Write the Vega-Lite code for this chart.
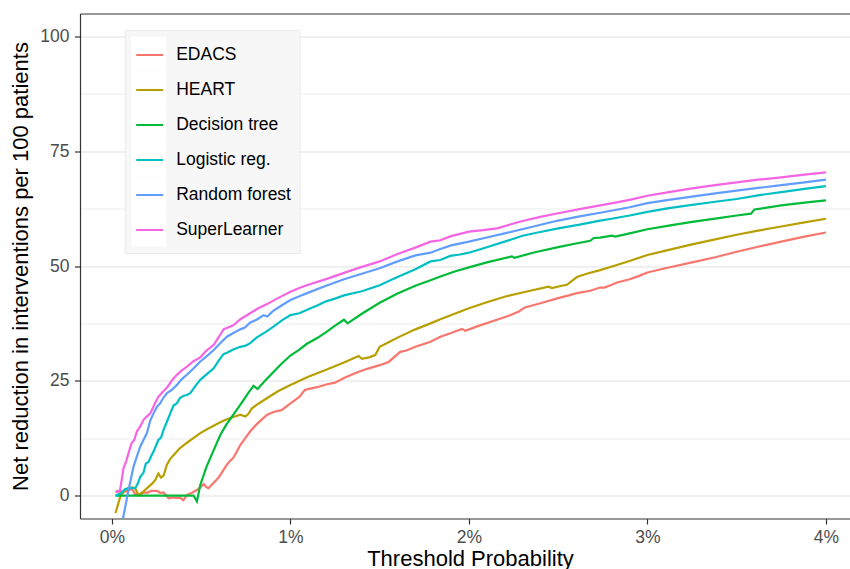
{
  "$schema": "https://vega.github.io/schema/vega-lite/v6.json",
  "width": 770,
  "height": 505,
  "autosize": "none",
  "padding": {"left": 80, "top": 13.5, "right": 0, "bottom": 50.5},
  "background": "white",
  "config": {"view": {"stroke": null}, "font": "Liberation Sans"},
  "data": {
    "values": [
      {"model": "EDACS", "t": 0.02, "nb": 0.8}, {"model": "EDACS", "t": 0.05, "nb": 0.9}, {"model": "EDACS", "t": 0.084, "nb": 0.9},
      {"model": "EDACS", "t": 0.112, "nb": 1.5}, {"model": "EDACS", "t": 0.13, "nb": 0.3}, {"model": "EDACS", "t": 0.159, "nb": 0.2},
      {"model": "EDACS", "t": 0.18, "nb": 0.7}, {"model": "EDACS", "t": 0.196, "nb": 0.6}, {"model": "EDACS", "t": 0.22, "nb": 1.0},
      {"model": "EDACS", "t": 0.252, "nb": 1.0}, {"model": "EDACS", "t": 0.27, "nb": 0.6}, {"model": "EDACS", "t": 0.289, "nb": 0.7},
      {"model": "EDACS", "t": 0.318, "nb": -0.6}, {"model": "EDACS", "t": 0.34, "nb": -0.4}, {"model": "EDACS", "t": 0.355, "nb": -0.5},
      {"model": "EDACS", "t": 0.383, "nb": -0.5}, {"model": "EDACS", "t": 0.4, "nb": -1.0}, {"model": "EDACS", "t": 0.42, "nb": 0.1},
      {"model": "EDACS", "t": 0.448, "nb": 0.6}, {"model": "EDACS", "t": 0.476, "nb": 1.2}, {"model": "EDACS", "t": 0.5, "nb": 2.0},
      {"model": "EDACS", "t": 0.514, "nb": 2.5}, {"model": "EDACS", "t": 0.53, "nb": 1.8}, {"model": "EDACS", "t": 0.541, "nb": 1.6},
      {"model": "EDACS", "t": 0.57, "nb": 2.8}, {"model": "EDACS", "t": 0.598, "nb": 3.9}, {"model": "EDACS", "t": 0.625, "nb": 5.6},
      {"model": "EDACS", "t": 0.645, "nb": 6.8}, {"model": "EDACS", "t": 0.663, "nb": 7.6}, {"model": "EDACS", "t": 0.68, "nb": 8.2},
      {"model": "EDACS", "t": 0.7, "nb": 9.6}, {"model": "EDACS", "t": 0.719, "nb": 11.0}, {"model": "EDACS", "t": 0.745, "nb": 12.4},
      {"model": "EDACS", "t": 0.775, "nb": 14.0}, {"model": "EDACS", "t": 0.81, "nb": 15.5}, {"model": "EDACS", "t": 0.84, "nb": 16.6},
      {"model": "EDACS", "t": 0.87, "nb": 17.6}, {"model": "EDACS", "t": 0.905, "nb": 18.2}, {"model": "EDACS", "t": 0.95, "nb": 18.6},
      {"model": "EDACS", "t": 1.0, "nb": 20.1}, {"model": "EDACS", "t": 1.05, "nb": 21.5}, {"model": "EDACS", "t": 1.08, "nb": 23.0},
      {"model": "EDACS", "t": 1.11, "nb": 23.3}, {"model": "EDACS", "t": 1.15, "nb": 23.6}, {"model": "EDACS", "t": 1.2, "nb": 24.2},
      {"model": "EDACS", "t": 1.25, "nb": 24.6}, {"model": "EDACS", "t": 1.3, "nb": 25.6}, {"model": "EDACS", "t": 1.372, "nb": 26.8},
      {"model": "EDACS", "t": 1.43, "nb": 27.6}, {"model": "EDACS", "t": 1.5, "nb": 28.4}, {"model": "EDACS", "t": 1.55, "nb": 29.1},
      {"model": "EDACS", "t": 1.615, "nb": 31.3}, {"model": "EDACS", "t": 1.65, "nb": 31.6}, {"model": "EDACS", "t": 1.7, "nb": 32.4},
      {"model": "EDACS", "t": 1.785, "nb": 33.5}, {"model": "EDACS", "t": 1.84, "nb": 34.6}, {"model": "EDACS", "t": 1.9, "nb": 35.4},
      {"model": "EDACS", "t": 1.96, "nb": 36.3}, {"model": "EDACS", "t": 1.98, "nb": 35.9}, {"model": "EDACS", "t": 2.05, "nb": 36.9},
      {"model": "EDACS", "t": 2.157, "nb": 38.3}, {"model": "EDACS", "t": 2.22, "nb": 39.1}, {"model": "EDACS", "t": 2.28, "nb": 40.1},
      {"model": "EDACS", "t": 2.31, "nb": 40.9}, {"model": "EDACS", "t": 2.4, "nb": 41.9}, {"model": "EDACS", "t": 2.5, "nb": 43.0},
      {"model": "EDACS", "t": 2.56, "nb": 43.6}, {"model": "EDACS", "t": 2.605, "nb": 44.1}, {"model": "EDACS", "t": 2.68, "nb": 44.6},
      {"model": "EDACS", "t": 2.735, "nb": 45.3}, {"model": "EDACS", "t": 2.76, "nb": 45.3}, {"model": "EDACS", "t": 2.8, "nb": 45.9},
      {"model": "EDACS", "t": 2.83, "nb": 46.4}, {"model": "EDACS", "t": 2.9, "nb": 47.1}, {"model": "EDACS", "t": 2.95, "nb": 47.8},
      {"model": "EDACS", "t": 3.0, "nb": 48.6}, {"model": "EDACS", "t": 3.1, "nb": 49.5}, {"model": "EDACS", "t": 3.25, "nb": 50.8},
      {"model": "EDACS", "t": 3.38, "nb": 51.9}, {"model": "EDACS", "t": 3.5, "nb": 53.1}, {"model": "EDACS", "t": 3.62, "nb": 54.2},
      {"model": "EDACS", "t": 3.75, "nb": 55.3}, {"model": "EDACS", "t": 3.88, "nb": 56.4}, {"model": "EDACS", "t": 4.0, "nb": 57.3},

      {"model": "HEART", "t": 0.02, "nb": -3.8}, {"model": "HEART", "t": 0.047, "nb": -0.2}, {"model": "HEART", "t": 0.075, "nb": 1.3},
      {"model": "HEART", "t": 0.095, "nb": 1.7}, {"model": "HEART", "t": 0.112, "nb": 1.8}, {"model": "HEART", "t": 0.13, "nb": 1.6},
      {"model": "HEART", "t": 0.149, "nb": 0.1}, {"model": "HEART", "t": 0.165, "nb": 0.6}, {"model": "HEART", "t": 0.177, "nb": 0.9},
      {"model": "HEART", "t": 0.205, "nb": 1.9}, {"model": "HEART", "t": 0.225, "nb": 2.6}, {"model": "HEART", "t": 0.243, "nb": 3.4},
      {"model": "HEART", "t": 0.26, "nb": 4.8}, {"model": "HEART", "t": 0.275, "nb": 3.9}, {"model": "HEART", "t": 0.29, "nb": 4.4},
      {"model": "HEART", "t": 0.308, "nb": 6.7}, {"model": "HEART", "t": 0.325, "nb": 7.9}, {"model": "HEART", "t": 0.345, "nb": 8.8},
      {"model": "HEART", "t": 0.38, "nb": 10.3}, {"model": "HEART", "t": 0.42, "nb": 11.5}, {"model": "HEART", "t": 0.46, "nb": 12.6},
      {"model": "HEART", "t": 0.495, "nb": 13.6}, {"model": "HEART", "t": 0.54, "nb": 14.6}, {"model": "HEART", "t": 0.588, "nb": 15.6},
      {"model": "HEART", "t": 0.63, "nb": 16.4}, {"model": "HEART", "t": 0.68, "nb": 17.1}, {"model": "HEART", "t": 0.719, "nb": 17.6},
      {"model": "HEART", "t": 0.747, "nb": 17.2}, {"model": "HEART", "t": 0.765, "nb": 17.8}, {"model": "HEART", "t": 0.784, "nb": 19.0},
      {"model": "HEART", "t": 0.82, "nb": 20.0}, {"model": "HEART", "t": 0.868, "nb": 21.2}, {"model": "HEART", "t": 0.93, "nb": 22.7},
      {"model": "HEART", "t": 1.0, "nb": 24.1}, {"model": "HEART", "t": 1.1, "nb": 25.9}, {"model": "HEART", "t": 1.2, "nb": 27.4},
      {"model": "HEART", "t": 1.3, "nb": 29.0}, {"model": "HEART", "t": 1.382, "nb": 30.4}, {"model": "HEART", "t": 1.4, "nb": 29.8},
      {"model": "HEART", "t": 1.44, "nb": 30.1}, {"model": "HEART", "t": 1.475, "nb": 30.6}, {"model": "HEART", "t": 1.5, "nb": 32.4},
      {"model": "HEART", "t": 1.55, "nb": 33.4}, {"model": "HEART", "t": 1.6, "nb": 34.4}, {"model": "HEART", "t": 1.7, "nb": 36.2},
      {"model": "HEART", "t": 1.785, "nb": 37.5}, {"model": "HEART", "t": 1.84, "nb": 38.4}, {"model": "HEART", "t": 1.92, "nb": 39.6},
      {"model": "HEART", "t": 2.0, "nb": 40.8}, {"model": "HEART", "t": 2.1, "nb": 42.1}, {"model": "HEART", "t": 2.2, "nb": 43.3},
      {"model": "HEART", "t": 2.33, "nb": 44.5}, {"model": "HEART", "t": 2.446, "nb": 45.5}, {"model": "HEART", "t": 2.465, "nb": 45.2},
      {"model": "HEART", "t": 2.52, "nb": 45.7}, {"model": "HEART", "t": 2.549, "nb": 45.9}, {"model": "HEART", "t": 2.605, "nb": 47.6},
      {"model": "HEART", "t": 2.66, "nb": 48.3}, {"model": "HEART", "t": 2.735, "nb": 49.1}, {"model": "HEART", "t": 2.82, "nb": 50.1},
      {"model": "HEART", "t": 2.9, "nb": 51.1}, {"model": "HEART", "t": 3.0, "nb": 52.4}, {"model": "HEART", "t": 3.12, "nb": 53.5},
      {"model": "HEART", "t": 3.25, "nb": 54.7}, {"model": "HEART", "t": 3.38, "nb": 55.8}, {"model": "HEART", "t": 3.5, "nb": 56.8},
      {"model": "HEART", "t": 3.62, "nb": 57.7}, {"model": "HEART", "t": 3.75, "nb": 58.6}, {"model": "HEART", "t": 3.88, "nb": 59.5},
      {"model": "HEART", "t": 4.0, "nb": 60.3},

      {"model": "Decision tree", "t": 0.02, "nb": 0.0}, {"model": "Decision tree", "t": 0.1, "nb": 0.0}, {"model": "Decision tree", "t": 0.2, "nb": 0.0},
      {"model": "Decision tree", "t": 0.3, "nb": 0.0}, {"model": "Decision tree", "t": 0.4, "nb": 0.0}, {"model": "Decision tree", "t": 0.457, "nb": 0.0},
      {"model": "Decision tree", "t": 0.476, "nb": -1.3}, {"model": "Decision tree", "t": 0.495, "nb": 2.3}, {"model": "Decision tree", "t": 0.53, "nb": 6.3},
      {"model": "Decision tree", "t": 0.57, "nb": 9.9}, {"model": "Decision tree", "t": 0.607, "nb": 13.2}, {"model": "Decision tree", "t": 0.64, "nb": 15.4},
      {"model": "Decision tree", "t": 0.672, "nb": 17.2}, {"model": "Decision tree", "t": 0.705, "nb": 19.0}, {"model": "Decision tree", "t": 0.737, "nb": 20.8},
      {"model": "Decision tree", "t": 0.765, "nb": 22.4}, {"model": "Decision tree", "t": 0.793, "nb": 23.9}, {"model": "Decision tree", "t": 0.816, "nb": 23.2},
      {"model": "Decision tree", "t": 0.86, "nb": 25.1}, {"model": "Decision tree", "t": 0.905, "nb": 26.9}, {"model": "Decision tree", "t": 0.95, "nb": 28.7},
      {"model": "Decision tree", "t": 1.0, "nb": 30.5}, {"model": "Decision tree", "t": 1.05, "nb": 31.8}, {"model": "Decision tree", "t": 1.09, "nb": 33.0},
      {"model": "Decision tree", "t": 1.15, "nb": 34.3}, {"model": "Decision tree", "t": 1.204, "nb": 35.7}, {"model": "Decision tree", "t": 1.25, "nb": 37.0},
      {"model": "Decision tree", "t": 1.3, "nb": 38.3}, {"model": "Decision tree", "t": 1.32, "nb": 37.5}, {"model": "Decision tree", "t": 1.4, "nb": 39.6},
      {"model": "Decision tree", "t": 1.5, "nb": 42.0}, {"model": "Decision tree", "t": 1.6, "nb": 44.0}, {"model": "Decision tree", "t": 1.7, "nb": 45.7},
      {"model": "Decision tree", "t": 1.785, "nb": 46.9}, {"model": "Decision tree", "t": 1.84, "nb": 47.7}, {"model": "Decision tree", "t": 1.92, "nb": 48.8},
      {"model": "Decision tree", "t": 2.0, "nb": 49.7}, {"model": "Decision tree", "t": 2.1, "nb": 50.8}, {"model": "Decision tree", "t": 2.24, "nb": 52.1},
      {"model": "Decision tree", "t": 2.255, "nb": 51.8}, {"model": "Decision tree", "t": 2.37, "nb": 53.0}, {"model": "Decision tree", "t": 2.5, "nb": 54.1},
      {"model": "Decision tree", "t": 2.6, "nb": 54.9}, {"model": "Decision tree", "t": 2.68, "nb": 55.5}, {"model": "Decision tree", "t": 2.7, "nb": 56.1},
      {"model": "Decision tree", "t": 2.735, "nb": 56.2}, {"model": "Decision tree", "t": 2.8, "nb": 56.6}, {"model": "Decision tree", "t": 2.82, "nb": 56.4},
      {"model": "Decision tree", "t": 2.9, "nb": 57.1}, {"model": "Decision tree", "t": 3.0, "nb": 58.0}, {"model": "Decision tree", "t": 3.12, "nb": 58.8},
      {"model": "Decision tree", "t": 3.25, "nb": 59.6}, {"model": "Decision tree", "t": 3.38, "nb": 60.3}, {"model": "Decision tree", "t": 3.5, "nb": 61.0},
      {"model": "Decision tree", "t": 3.58, "nb": 61.4}, {"model": "Decision tree", "t": 3.6, "nb": 62.3}, {"model": "Decision tree", "t": 3.75, "nb": 63.2},
      {"model": "Decision tree", "t": 3.88, "nb": 63.8}, {"model": "Decision tree", "t": 4.0, "nb": 64.3},

      {"model": "Logistic reg.", "t": 0.02, "nb": 0.0}, {"model": "Logistic reg.", "t": 0.05, "nb": 0.5}, {"model": "Logistic reg.", "t": 0.075, "nb": 1.4},
      {"model": "Logistic reg.", "t": 0.1, "nb": 1.6}, {"model": "Logistic reg.", "t": 0.13, "nb": 1.6}, {"model": "Logistic reg.", "t": 0.145, "nb": 2.6},
      {"model": "Logistic reg.", "t": 0.159, "nb": 4.1}, {"model": "Logistic reg.", "t": 0.177, "nb": 5.0}, {"model": "Logistic reg.", "t": 0.19, "nb": 7.0},
      {"model": "Logistic reg.", "t": 0.205, "nb": 7.3}, {"model": "Logistic reg.", "t": 0.22, "nb": 8.6}, {"model": "Logistic reg.", "t": 0.233, "nb": 9.6},
      {"model": "Logistic reg.", "t": 0.26, "nb": 12.1}, {"model": "Logistic reg.", "t": 0.275, "nb": 12.6}, {"model": "Logistic reg.", "t": 0.289, "nb": 14.3},
      {"model": "Logistic reg.", "t": 0.31, "nb": 16.3}, {"model": "Logistic reg.", "t": 0.327, "nb": 17.9}, {"model": "Logistic reg.", "t": 0.345, "nb": 19.6},
      {"model": "Logistic reg.", "t": 0.364, "nb": 20.1}, {"model": "Logistic reg.", "t": 0.38, "nb": 21.2}, {"model": "Logistic reg.", "t": 0.4, "nb": 21.7},
      {"model": "Logistic reg.", "t": 0.42, "nb": 21.9}, {"model": "Logistic reg.", "t": 0.439, "nb": 22.3}, {"model": "Logistic reg.", "t": 0.47, "nb": 24.0},
      {"model": "Logistic reg.", "t": 0.495, "nb": 25.2}, {"model": "Logistic reg.", "t": 0.53, "nb": 26.4}, {"model": "Logistic reg.", "t": 0.57, "nb": 27.7},
      {"model": "Logistic reg.", "t": 0.6, "nb": 29.5}, {"model": "Logistic reg.", "t": 0.625, "nb": 30.8}, {"model": "Logistic reg.", "t": 0.644, "nb": 31.1},
      {"model": "Logistic reg.", "t": 0.68, "nb": 31.8}, {"model": "Logistic reg.", "t": 0.719, "nb": 32.4}, {"model": "Logistic reg.", "t": 0.745, "nb": 32.6},
      {"model": "Logistic reg.", "t": 0.775, "nb": 33.2}, {"model": "Logistic reg.", "t": 0.81, "nb": 34.4}, {"model": "Logistic reg.", "t": 0.86, "nb": 35.6},
      {"model": "Logistic reg.", "t": 0.905, "nb": 36.8}, {"model": "Logistic reg.", "t": 0.95, "nb": 38.1}, {"model": "Logistic reg.", "t": 1.0, "nb": 39.3},
      {"model": "Logistic reg.", "t": 1.05, "nb": 39.7}, {"model": "Logistic reg.", "t": 1.1, "nb": 40.6}, {"model": "Logistic reg.", "t": 1.15, "nb": 41.4},
      {"model": "Logistic reg.", "t": 1.2, "nb": 42.3}, {"model": "Logistic reg.", "t": 1.25, "nb": 42.9}, {"model": "Logistic reg.", "t": 1.3, "nb": 43.6},
      {"model": "Logistic reg.", "t": 1.4, "nb": 44.5}, {"model": "Logistic reg.", "t": 1.5, "nb": 45.8}, {"model": "Logistic reg.", "t": 1.6, "nb": 47.6},
      {"model": "Logistic reg.", "t": 1.7, "nb": 49.3}, {"model": "Logistic reg.", "t": 1.785, "nb": 51.0}, {"model": "Logistic reg.", "t": 1.84, "nb": 51.3},
      {"model": "Logistic reg.", "t": 1.895, "nb": 52.2}, {"model": "Logistic reg.", "t": 1.95, "nb": 52.5}, {"model": "Logistic reg.", "t": 2.0, "nb": 52.9},
      {"model": "Logistic reg.", "t": 2.1, "nb": 54.1}, {"model": "Logistic reg.", "t": 2.2, "nb": 55.3}, {"model": "Logistic reg.", "t": 2.3, "nb": 56.6},
      {"model": "Logistic reg.", "t": 2.4, "nb": 57.4}, {"model": "Logistic reg.", "t": 2.5, "nb": 58.2}, {"model": "Logistic reg.", "t": 2.62, "nb": 59.0},
      {"model": "Logistic reg.", "t": 2.735, "nb": 59.9}, {"model": "Logistic reg.", "t": 2.8, "nb": 60.3}, {"model": "Logistic reg.", "t": 2.9, "nb": 61.0},
      {"model": "Logistic reg.", "t": 3.0, "nb": 61.8}, {"model": "Logistic reg.", "t": 3.12, "nb": 62.6}, {"model": "Logistic reg.", "t": 3.25, "nb": 63.3},
      {"model": "Logistic reg.", "t": 3.38, "nb": 64.0}, {"model": "Logistic reg.", "t": 3.5, "nb": 64.6}, {"model": "Logistic reg.", "t": 3.62, "nb": 65.4},
      {"model": "Logistic reg.", "t": 3.75, "nb": 66.1}, {"model": "Logistic reg.", "t": 3.88, "nb": 66.8}, {"model": "Logistic reg.", "t": 4.0, "nb": 67.4},

      {"model": "Random forest", "t": 0.02, "nb": -13.3}, {"model": "Random forest", "t": 0.093, "nb": 1.2}, {"model": "Random forest", "t": 0.121, "nb": 6.3},
      {"model": "Random forest", "t": 0.14, "nb": 8.6}, {"model": "Random forest", "t": 0.159, "nb": 10.7}, {"model": "Random forest", "t": 0.178, "nb": 12.2},
      {"model": "Random forest", "t": 0.196, "nb": 13.6}, {"model": "Random forest", "t": 0.215, "nb": 16.4}, {"model": "Random forest", "t": 0.233, "nb": 17.9},
      {"model": "Random forest", "t": 0.25, "nb": 19.2}, {"model": "Random forest", "t": 0.27, "nb": 20.1}, {"model": "Random forest", "t": 0.29, "nb": 21.4},
      {"model": "Random forest", "t": 0.308, "nb": 22.3}, {"model": "Random forest", "t": 0.335, "nb": 23.0}, {"model": "Random forest", "t": 0.364, "nb": 24.1},
      {"model": "Random forest", "t": 0.39, "nb": 25.3}, {"model": "Random forest", "t": 0.42, "nb": 26.3}, {"model": "Random forest", "t": 0.455, "nb": 27.6},
      {"model": "Random forest", "t": 0.495, "nb": 29.2}, {"model": "Random forest", "t": 0.53, "nb": 30.3}, {"model": "Random forest", "t": 0.57, "nb": 31.7},
      {"model": "Random forest", "t": 0.605, "nb": 33.1}, {"model": "Random forest", "t": 0.644, "nb": 34.6}, {"model": "Random forest", "t": 0.68, "nb": 35.4},
      {"model": "Random forest", "t": 0.719, "nb": 36.2}, {"model": "Random forest", "t": 0.745, "nb": 36.6}, {"model": "Random forest", "t": 0.775, "nb": 37.7},
      {"model": "Random forest", "t": 0.81, "nb": 38.3}, {"model": "Random forest", "t": 0.85, "nb": 39.3}, {"model": "Random forest", "t": 0.87, "nb": 39.0},
      {"model": "Random forest", "t": 0.9, "nb": 40.1}, {"model": "Random forest", "t": 0.95, "nb": 41.4}, {"model": "Random forest", "t": 1.0, "nb": 42.6},
      {"model": "Random forest", "t": 1.05, "nb": 43.4}, {"model": "Random forest", "t": 1.1, "nb": 44.2}, {"model": "Random forest", "t": 1.2, "nb": 45.7},
      {"model": "Random forest", "t": 1.3, "nb": 47.1}, {"model": "Random forest", "t": 1.4, "nb": 48.3}, {"model": "Random forest", "t": 1.5, "nb": 49.5},
      {"model": "Random forest", "t": 1.6, "nb": 51.0}, {"model": "Random forest", "t": 1.7, "nb": 52.3}, {"model": "Random forest", "t": 1.785, "nb": 52.9},
      {"model": "Random forest", "t": 1.84, "nb": 53.7}, {"model": "Random forest", "t": 1.9, "nb": 54.5}, {"model": "Random forest", "t": 2.0, "nb": 55.3},
      {"model": "Random forest", "t": 2.1, "nb": 56.2}, {"model": "Random forest", "t": 2.2, "nb": 57.1}, {"model": "Random forest", "t": 2.35, "nb": 58.5},
      {"model": "Random forest", "t": 2.5, "nb": 59.9}, {"model": "Random forest", "t": 2.62, "nb": 60.8}, {"model": "Random forest", "t": 2.735, "nb": 61.6},
      {"model": "Random forest", "t": 2.82, "nb": 62.2}, {"model": "Random forest", "t": 2.9, "nb": 62.8}, {"model": "Random forest", "t": 3.0, "nb": 63.7},
      {"model": "Random forest", "t": 3.12, "nb": 64.4}, {"model": "Random forest", "t": 3.25, "nb": 65.1}, {"model": "Random forest", "t": 3.38, "nb": 65.8},
      {"model": "Random forest", "t": 3.5, "nb": 66.4}, {"model": "Random forest", "t": 3.62, "nb": 67.0}, {"model": "Random forest", "t": 3.75, "nb": 67.6},
      {"model": "Random forest", "t": 3.88, "nb": 68.2}, {"model": "Random forest", "t": 4.0, "nb": 68.8},

      {"model": "SuperLearner", "t": 0.02, "nb": 0.8}, {"model": "SuperLearner", "t": 0.045, "nb": 1.1}, {"model": "SuperLearner", "t": 0.055, "nb": 3.5},
      {"model": "SuperLearner", "t": 0.065, "nb": 6.0}, {"model": "SuperLearner", "t": 0.08, "nb": 7.5}, {"model": "SuperLearner", "t": 0.095, "nb": 9.5},
      {"model": "SuperLearner", "t": 0.11, "nb": 11.4}, {"model": "SuperLearner", "t": 0.125, "nb": 12.1}, {"model": "SuperLearner", "t": 0.14, "nb": 14.0},
      {"model": "SuperLearner", "t": 0.158, "nb": 15.0}, {"model": "SuperLearner", "t": 0.177, "nb": 16.5}, {"model": "SuperLearner", "t": 0.195, "nb": 17.2},
      {"model": "SuperLearner", "t": 0.215, "nb": 17.9}, {"model": "SuperLearner", "t": 0.24, "nb": 20.0}, {"model": "SuperLearner", "t": 0.26, "nb": 21.5},
      {"model": "SuperLearner", "t": 0.285, "nb": 22.6}, {"model": "SuperLearner", "t": 0.31, "nb": 23.6}, {"model": "SuperLearner", "t": 0.34, "nb": 25.3},
      {"model": "SuperLearner", "t": 0.364, "nb": 26.3}, {"model": "SuperLearner", "t": 0.39, "nb": 27.2}, {"model": "SuperLearner", "t": 0.42, "nb": 28.1},
      {"model": "SuperLearner", "t": 0.455, "nb": 29.2}, {"model": "SuperLearner", "t": 0.495, "nb": 30.1}, {"model": "SuperLearner", "t": 0.53, "nb": 31.6},
      {"model": "SuperLearner", "t": 0.57, "nb": 32.8}, {"model": "SuperLearner", "t": 0.6, "nb": 34.6}, {"model": "SuperLearner", "t": 0.625, "nb": 36.2},
      {"model": "SuperLearner", "t": 0.65, "nb": 36.6}, {"model": "SuperLearner", "t": 0.68, "nb": 37.1}, {"model": "SuperLearner", "t": 0.72, "nb": 38.4},
      {"model": "SuperLearner", "t": 0.765, "nb": 39.5}, {"model": "SuperLearner", "t": 0.82, "nb": 40.8}, {"model": "SuperLearner", "t": 0.869, "nb": 41.7},
      {"model": "SuperLearner", "t": 0.93, "nb": 43.0}, {"model": "SuperLearner", "t": 1.0, "nb": 44.4}, {"model": "SuperLearner", "t": 1.05, "nb": 45.2},
      {"model": "SuperLearner", "t": 1.1, "nb": 45.9}, {"model": "SuperLearner", "t": 1.204, "nb": 47.2}, {"model": "SuperLearner", "t": 1.3, "nb": 48.5},
      {"model": "SuperLearner", "t": 1.4, "nb": 49.8}, {"model": "SuperLearner", "t": 1.5, "nb": 51.0}, {"model": "SuperLearner", "t": 1.6, "nb": 52.6},
      {"model": "SuperLearner", "t": 1.7, "nb": 54.0}, {"model": "SuperLearner", "t": 1.785, "nb": 55.3}, {"model": "SuperLearner", "t": 1.84, "nb": 55.6},
      {"model": "SuperLearner", "t": 1.9, "nb": 56.5}, {"model": "SuperLearner", "t": 2.0, "nb": 57.5}, {"model": "SuperLearner", "t": 2.08, "nb": 57.8},
      {"model": "SuperLearner", "t": 2.157, "nb": 58.2}, {"model": "SuperLearner", "t": 2.3, "nb": 59.8}, {"model": "SuperLearner", "t": 2.4, "nb": 60.7},
      {"model": "SuperLearner", "t": 2.5, "nb": 61.5}, {"model": "SuperLearner", "t": 2.62, "nb": 62.4}, {"model": "SuperLearner", "t": 2.735, "nb": 63.2},
      {"model": "SuperLearner", "t": 2.82, "nb": 63.8}, {"model": "SuperLearner", "t": 2.9, "nb": 64.4}, {"model": "SuperLearner", "t": 3.0, "nb": 65.3},
      {"model": "SuperLearner", "t": 3.12, "nb": 66.1}, {"model": "SuperLearner", "t": 3.25, "nb": 66.9}, {"model": "SuperLearner", "t": 3.38, "nb": 67.6},
      {"model": "SuperLearner", "t": 3.5, "nb": 68.2}, {"model": "SuperLearner", "t": 3.62, "nb": 68.8}, {"model": "SuperLearner", "t": 3.75, "nb": 69.3},
      {"model": "SuperLearner", "t": 3.88, "nb": 69.9}, {"model": "SuperLearner", "t": 4.0, "nb": 70.4}
    ]
  },
  "layer": [
    {
      "mark": {"type": "square", "size": 0, "filled": true, "strokeWidth": 0},
      "encoding": {
        "x": {
          "field": "t",
          "type": "quantitative",
          "axis": {
            "orient": "top",
            "labels": false,
            "ticks": false,
            "grid": false,
            "title": null,
            "domainColor": "#333333",
            "domainWidth": 1.2
          }
        },
        "color": {
          "field": "model",
          "type": "nominal",
          "scale": {"range": ["#FFFFFF"]},
          "legend": {
            "orient": "none",
            "legendX": 44.7,
            "legendY": 16.5,
            "title": null,
            "fillColor": "#F7F7F7",
            "strokeColor": "#EBEBEB",
            "padding": 6.5,
            "symbolType": "square",
            "symbolSize": 1225,
            "symbolStrokeWidth": 0,
            "symbolOpacity": 1,
            "labelExpr": "''",
            "labelFontSize": 17.5,
            "labelOffset": 127,
            "rowPadding": 0
          }
        }
      }
    },
    {
      "mark": {"type": "line", "strokeWidth": 2.2, "clip": true},
      "encoding": {
        "x": {
          "field": "t",
          "type": "quantitative",
          "scale": {"domain": [-0.179, 4.135], "nice": false, "zero": false},
          "axis": {
            "orient": "bottom",
            "values": [0, 0.5, 1, 1.5, 2, 2.5, 3, 3.5, 4],
            "labelExpr": "datum.value % 1 === 0 ? datum.value + '%' : ''",
            "title": "Threshold Probability",
            "titleFontSize": 22,
            "titleFontWeight": "normal",
            "titleColor": "black",
            "titleX": 390,
            "titlePadding": 2,
            "labelFontSize": 17.5,
            "labelColor": "#4D4D4D",
            "labelPadding": 4.5,
            "labelFlush": false,
            "labelOverlap": false,
            "tickColor": "#333333",
            "tickSize": 5.5,
            "tickWidth": 1.2,
            "tickOpacity": {"condition": {"test": "datum.value % 1 !== 0", "value": 0}, "value": 1},
            "gridColor": "#EBEBEB",
            "gridWidth": {"condition": {"test": "datum.value % 1 !== 0", "value": 0.9}, "value": 1.6},
            "domainColor": "#333333",
            "domainWidth": 1.2
          }
        },
        "y": {
          "field": "nb",
          "type": "quantitative",
          "scale": {"domain": [-5, 105], "nice": false, "zero": false},
          "axis": {
            "orient": "left",
            "values": [0, 12.5, 25, 37.5, 50, 62.5, 75, 87.5, 100],
            "labelExpr": "datum.value % 25 === 0 ? datum.value + '' : ''",
            "title": "Net reduction in interventions per 100 patients",
            "titleFontSize": 22,
            "titleFontWeight": "normal",
            "titleColor": "black",
            "titlePadding": 7,
            "labelFontSize": 17.5,
            "labelColor": "#4D4D4D",
            "labelPadding": 5.5,
            "labelFlush": false,
            "labelOverlap": false,
            "tickColor": "#333333",
            "tickSize": 5.5,
            "tickWidth": 1.2,
            "tickOpacity": {"condition": {"test": "datum.value % 25 !== 0", "value": 0}, "value": 1},
            "gridColor": "#EBEBEB",
            "gridWidth": {"condition": {"test": "datum.value % 25 !== 0", "value": 0.9}, "value": 1.6},
            "domainColor": "#333333",
            "domainWidth": 1.2
          }
        },
        "stroke": {
          "field": "model",
          "type": "nominal",
          "scale": {
            "domain": ["EDACS", "HEART", "Decision tree", "Logistic reg.", "Random forest", "SuperLearner"],
            "range": ["#F8766D", "#B79F00", "#00BA38", "#00BFC4", "#619CFF", "#F564E3"]
          },
          "legend": {
            "orient": "none",
            "legendX": 44.7,
            "legendY": 16.5,
            "title": null,
            "fillColor": null,
            "strokeColor": null,
            "padding": 10.5,
            "symbolType": "stroke",
            "symbolSize": 729,
            "symbolStrokeWidth": 2,
            "symbolOpacity": 1,
            "labelFontSize": 17.5,
            "labelColor": "black",
            "labelOffset": 12,
            "rowPadding": 12
          }
        }
      }
    }
  ]
}
